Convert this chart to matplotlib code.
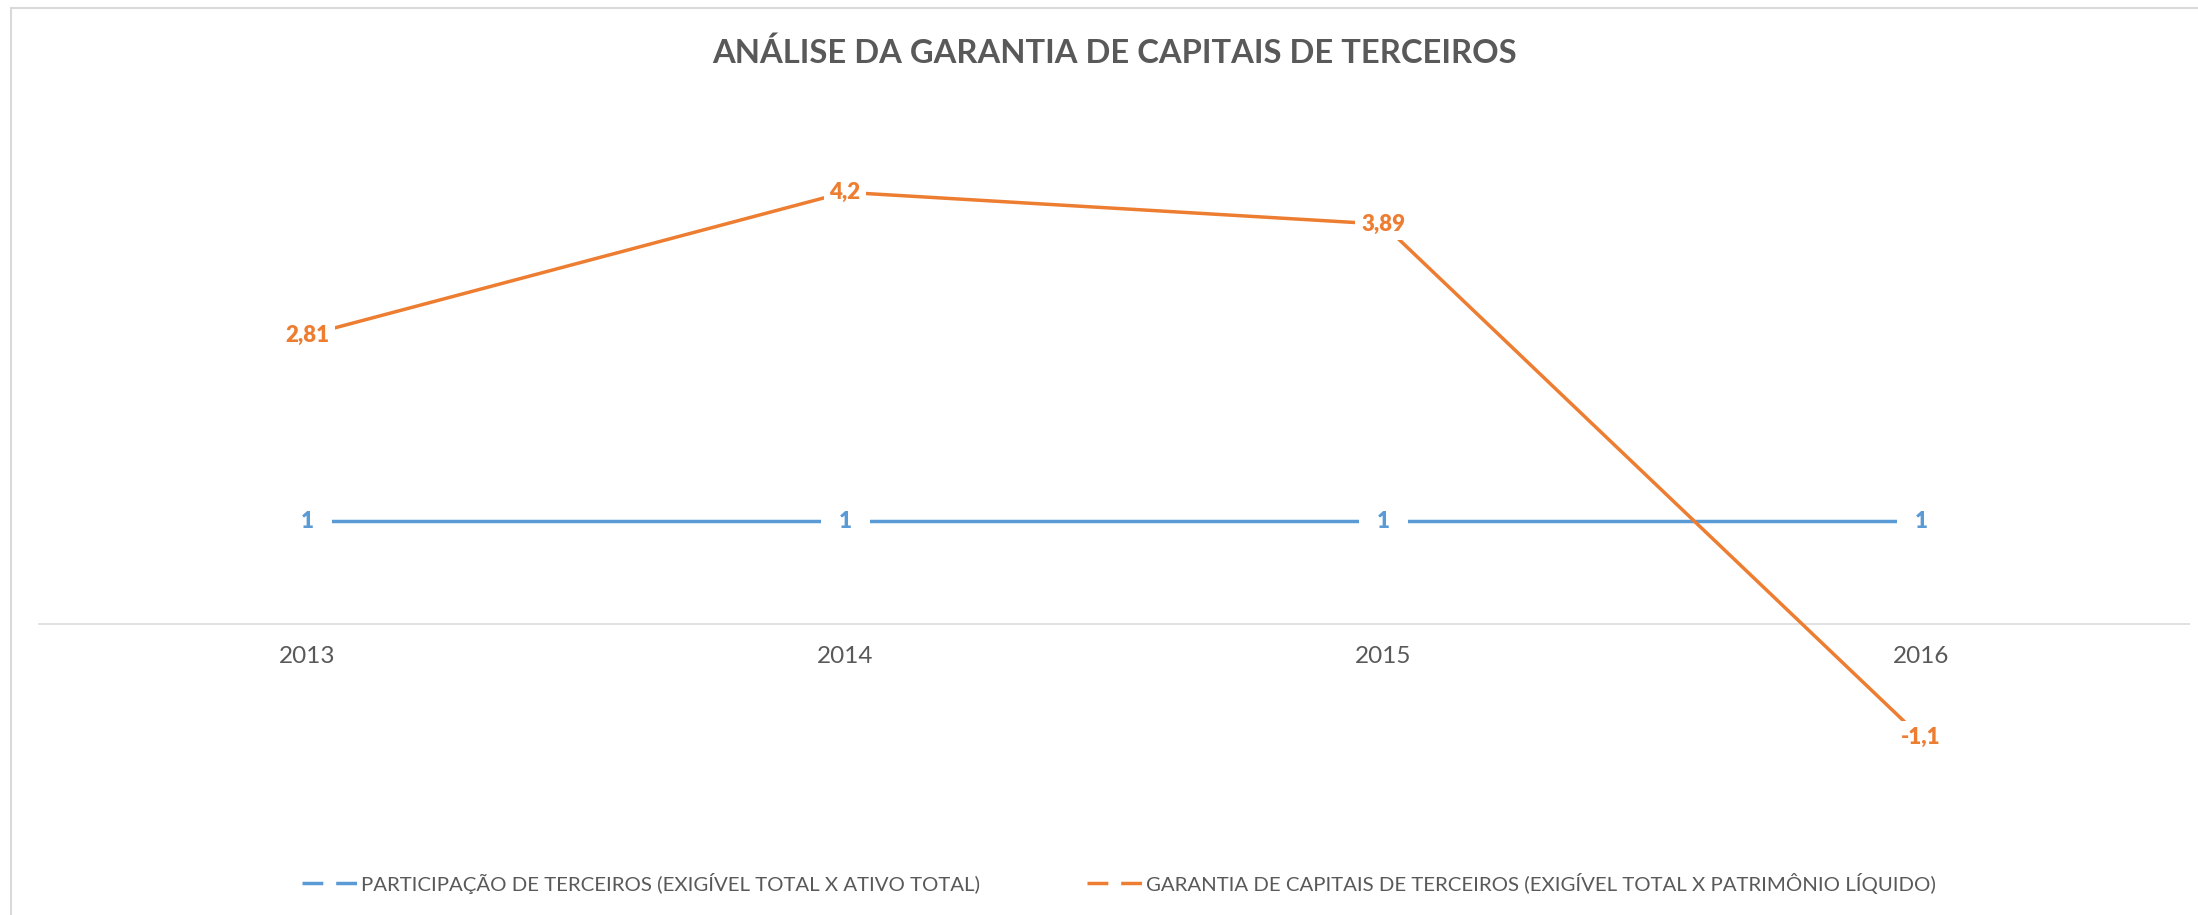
import matplotlib
matplotlib.use('Agg')
import matplotlib.pyplot as plt
from matplotlib.lines import Line2D

# dados dos indicadores por ano
anos = ['2013', '2014', '2015', '2016']
participacao = [1, 1, 1, 1]
garantia = [2.81, 4.2, 3.89, -1.1]
nome_participacao = 'PARTICIPAÇÃO DE TERCEIROS (EXIGÍVEL TOTAL X ATIVO TOTAL)'
nome_garantia = 'GARANTIA DE CAPITAIS DE TERCEIROS (EXIGÍVEL TOTAL X PATRIMÔNIO LÍQUIDO)'
titulo = 'ANÁLISE DA GARANTIA DE CAPITAIS DE TERCEIROS'

azul = '#5B9BD5'
laranja = '#ED7D31'
cinza = '#595959'

plt.rcParams['font.family'] = ['Lato', 'DejaVu Sans']

W, H = 2198, 915
fig = plt.figure(figsize=(W / 100, H / 100), dpi=100)

# area do grafico (em pixels: x 38..2190, y 110..830)
ax = fig.add_axes([38 / W, 1 - 830 / H, 2152 / W, 720 / H])
x = list(range(len(anos)))

ax.plot(x, participacao, color=azul, lw=2.5, zorder=2)
ax.plot(x, garantia, color=laranja, lw=2.5, zorder=3)

def rotulo(v):
    return ('%g' % v).replace('.', ',')

# rotulos de dados com fundo branco cobrindo a linha
for xi, v in zip(x, participacao):
    ax.text(xi, v, rotulo(v), color=azul, fontsize=16, fontweight='heavy',
            ha='center', va='center', zorder=4,
            bbox=dict(facecolor='white', edgecolor='none', pad=13))
for xi, v in zip(x, garantia):
    ax.text(xi, v, rotulo(v), color=laranja, fontsize=16, fontweight='heavy',
            ha='center', va='center', zorder=5,
            bbox=dict(facecolor='white', edgecolor='none', pad=4))

# linha do zero e anos logo abaixo dela
ax.axhline(0, color='#d9d9d9', lw=1.1, zorder=1)
for xi, a in zip(x, anos):
    ax.text(xi, -0.31, a, fontsize=17.5, color=cinza, ha='center', va='center')

ax.set_xlim(-0.5, 3.5)
ax.set_ylim(-2, 5)
ax.set_xticks([])
ax.set_yticks([])
for s in ax.spines.values():
    s.set_visible(False)

fig.text(1115 / W, 1 - 53 / H, titulo, fontsize=23.6, fontweight='bold',
         color=cinza, ha='center', va='center')

# moldura do grafico
fig.add_artist(Line2D([11 / W, 1], [1 - 8 / H, 1 - 8 / H], color='#d9d9d9', lw=1.5))
fig.add_artist(Line2D([11 / W, 11 / W], [0, 1 - 8 / H], color='#d9d9d9', lw=1.5))

handles = [
    Line2D([], [], color=azul, lw=2.5, dashes=(6.0, 3.7)),
    Line2D([], [], color=laranja, lw=2.5, dashes=(6.0, 3.7)),
]
fs_leg = 14.7
fig.legend(handles, [nome_participacao, nome_garantia], loc='center',
           bbox_to_anchor=(1119 / W, 1 - 883 / H), ncol=2, frameon=False,
           fontsize=fs_leg, handlelength=39.6 / fs_leg, handletextpad=2.9 / fs_leg,
           columnspacing=77 / fs_leg, labelcolor=cinza)

fig.savefig('out.png', dpi=100, facecolor='white')
